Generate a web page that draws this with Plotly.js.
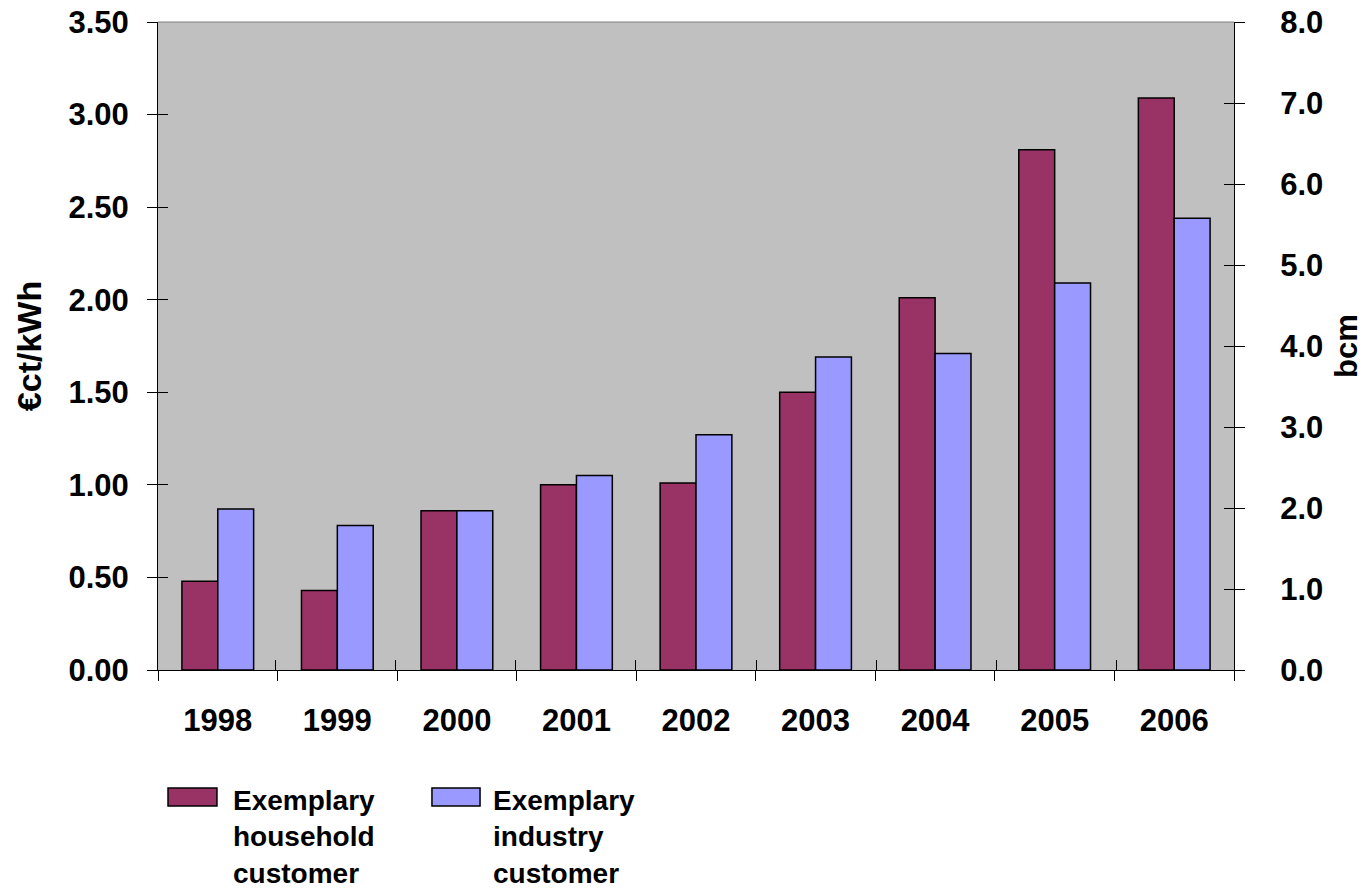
<!DOCTYPE html>
<html>
<head>
<meta charset="utf-8">
<script src="https://cdn.plot.ly/plotly-3.0.1.min.js"></script>
<style>html,body{margin:0;padding:0;background:#fff;}#chart{width:1364px;height:891px;}</style>
</head>
<body>
<div id="chart"></div>
<script>
const years = ['1998','1999','2000','2001','2002','2003','2004','2005','2006'];
const household = [0.48, 0.43, 0.86, 1.00, 1.01, 1.50, 2.01, 2.81, 3.09];
const industry = [0.87, 0.78, 0.86, 1.05, 1.27, 1.69, 1.71, 2.09, 2.44];
const householdName = 'Exemplary<br>household<br>customer';
const industryName = 'Exemplary<br>industry<br>customer';
const leftTitle = '€ct/kWh';
const rightTitle = 'bcm';

const FF = '"Liberation Sans", Arial, Helvetica, sans-serif';
const f = (s) => ({family: FF, size: s, color: '#000', weight: 'bold'});
const empty = years.map(() => null);
const helper = (xa, ya) => ({type: 'scatter', mode: 'markers', x: years, y: empty,
  xaxis: xa, yaxis: ya, showlegend: false, hoverinfo: 'skip', marker: {opacity: 0}});

const traces = [
  {type: 'bar', x: years, y: household, name: householdName,
   marker: {color: '#993366', line: {color: '#000', width: 1.5}}},
  {type: 'bar', x: years, y: industry, name: industryName,
   marker: {color: '#9999FF', line: {color: '#000', width: 1.5}}},
  helper('x', 'y2'),
  helper('x', 'y3'),
  helper('x', 'y4'),
  helper('x2', 'y')
];

const layout = {
  width: 1364, height: 891,
  margin: {l: 158, r: 130, t: 22, b: 221},
  paper_bgcolor: '#fff', plot_bgcolor: '#C0C0C0',
  showlegend: false,
  barmode: 'group', bargap: 0.4, bargroupgap: 0,
  xaxis: {type: 'category', categoryorder: 'array', categoryarray: years,
          tickson: 'boundaries', ticks: 'outside', ticklen: 10,
          tickcolor: '#000', tickwidth: 1, showline: true, linecolor: '#000', linewidth: 1,
          showgrid: false, zeroline: false, tickfont: f(31), ticklabelstandoff: 23},
  xaxis2: {overlaying: 'x', type: 'category', categoryorder: 'array', categoryarray: years,
           tickson: 'boundaries', ticks: 'inside', ticklen: 10, tickcolor: '#000',
           showticklabels: false, showgrid: false, zeroline: false, showline: false,
           side: 'bottom', anchor: 'y'},
  yaxis: {range: [0, 3.5], dtick: 0.5, tickformat: '.2f', ticks: 'outside', ticklen: 10,
          tickcolor: '#000', showline: true, linecolor: '#000', linewidth: 1,
          showgrid: false, zeroline: false, tickfont: f(31), ticklabelstandoff: 12,
          title: {text: leftTitle, font: f(34), standoff: 16}},
  yaxis2: {overlaying: 'y', side: 'right', range: [0, 8], dtick: 1, tickformat: '.1f',
           ticks: 'outside', ticklen: 10, tickcolor: '#000', showline: true, linecolor: '#000',
           showgrid: false, zeroline: false, tickfont: f(31), ticklabelstandoff: 29,
           title: {text: rightTitle, font: f(31), standoff: 20}},
  yaxis3: {overlaying: 'y', side: 'left', range: [0, 3.5], dtick: 0.5, ticks: 'inside',
           ticklen: 10, tickcolor: '#000', showticklabels: false, showgrid: false,
           zeroline: false, showline: false},
  yaxis4: {overlaying: 'y', side: 'right', range: [0, 8], dtick: 1, ticks: 'inside',
           ticklen: 10, tickcolor: '#000', showticklabels: false, showgrid: false,
           zeroline: false, showline: false},
  shapes: [
    {type: 'line', xref: 'paper', yref: 'paper', x0: 0, x1: 1, y0: 1, y1: 1,
     line: {color: '#808080', width: 1}},
    {type: 'rect', xref: 'paper', yref: 'paper', x0: 0.0093, x1: 0.0548, y0: -0.1821, y1: -0.2099,
     fillcolor: '#993366', line: {color: '#000', width: 1.5}},
    {type: 'rect', xref: 'paper', yref: 'paper', x0: 0.2546, x1: 0.2993, y0: -0.1821, y1: -0.2099,
     fillcolor: '#9999FF', line: {color: '#000', width: 1.5}}
  ],
  annotations: [
    {xref: 'paper', yref: 'paper', x: 0.0678, y: -0.174, xanchor: 'left', yanchor: 'top',
     align: 'left', showarrow: false, text: householdName, font: f(28)},
    {xref: 'paper', yref: 'paper', x: 0.3094, y: -0.174, xanchor: 'left', yanchor: 'top',
     align: 'left', showarrow: false, text: industryName, font: f(28)}
  ]
};

Plotly.newPlot('chart', traces, layout, {displayModeBar: false, staticPlot: true});
</script>
</body>
</html>
